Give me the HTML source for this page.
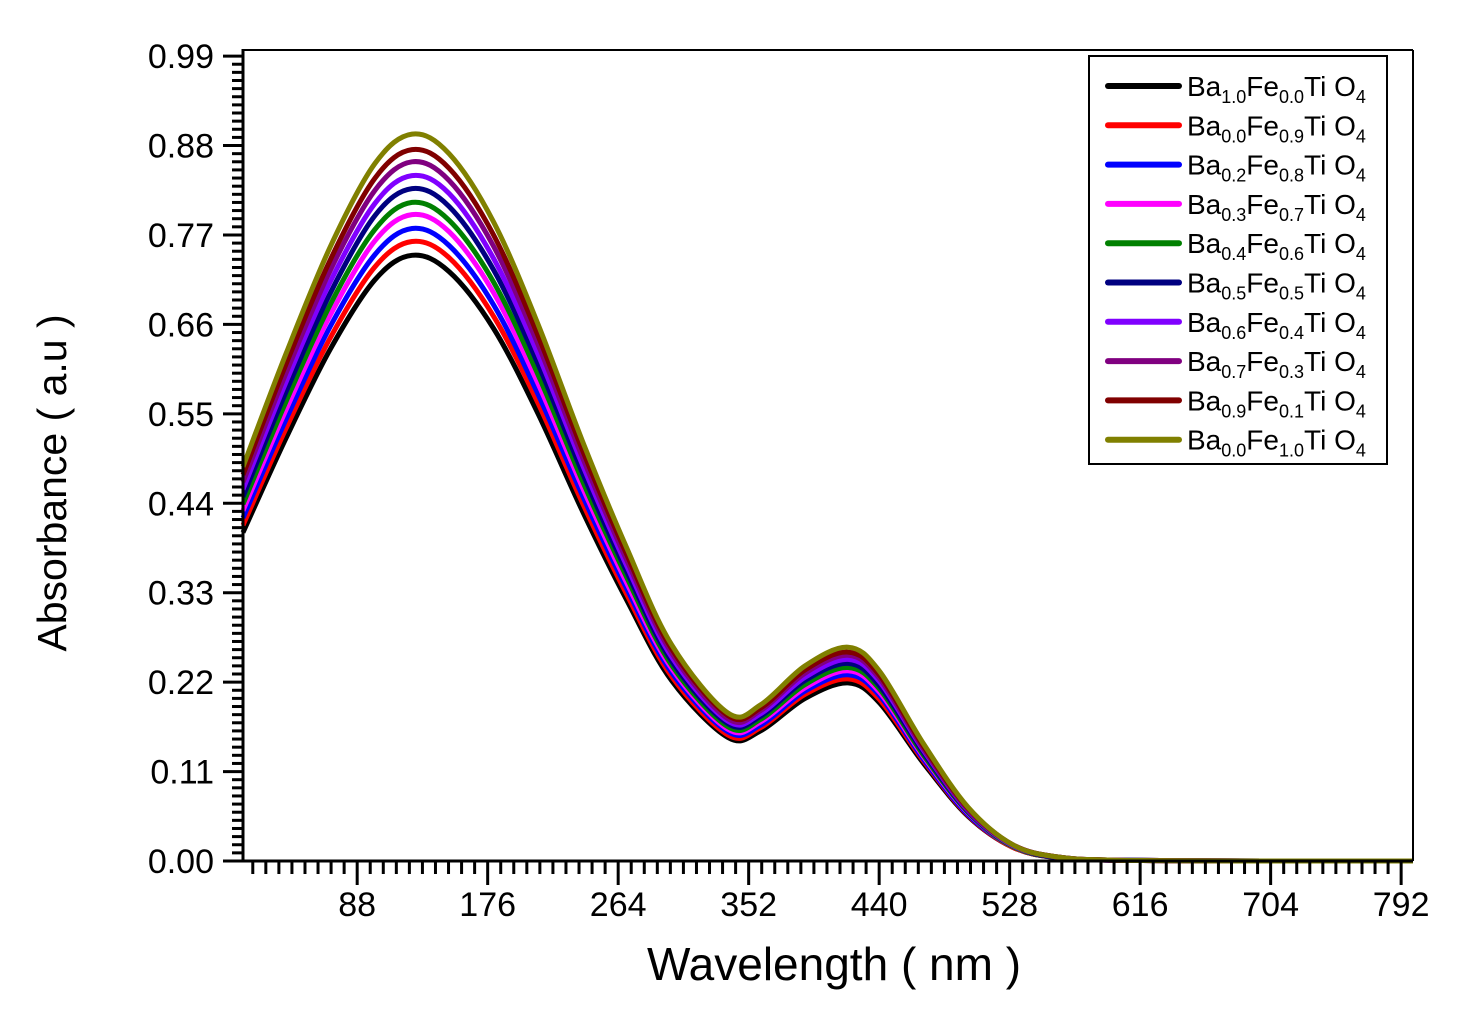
<!DOCTYPE html>
<html><head><meta charset="utf-8"><style>
body{margin:0;background:#fff}
svg text{font-family:"Liberation Sans",Arial,sans-serif;fill:#000}
</style></head><body>
<svg id="chart" width="1462" height="1013" viewBox="0 0 1462 1013" xmlns="http://www.w3.org/2000/svg">
<rect width="1462" height="1013" fill="#fff"/>
<g id="series"></g>
<g id="axes"></g>
<text x="834" y="980" font-size="46" text-anchor="middle">Wavelength ( nm )</text>
<text transform="translate(66,483) rotate(-90)" font-size="41" text-anchor="middle">Absorbance ( a.u )</text>
<g id="legend"></g>
</svg>
<script>
const wavelengths=[11,40,70,100,125,150,180,210,240,270,300,338,360,390,419,440,470,500,530,560,600,700,800];
const s1=[.404,.52,.63,.715,.745,.725,.655,.55,.43,.32,.222,.152,.16,.2,.219,.195,.12,.055,.017,.004,.001,0,0];
const s2=[.413,.532,.644,.731,.762,.742,.670,.563,.440,.327,.227,.155,.164,.205,.224,.199,.123,.056,.017,.004,.001,0,0];
const s3=[.422,.543,.658,.746,.778,.757,.684,.574,.449,.334,.232,.159,.167,.209,.229,.204,.125,.057,.018,.004,.001,0,0];
const s4=[.431,.555,.672,.763,.795,.774,.699,.587,.459,.341,.237,.162,.171,.213,.234,.208,.128,.059,.018,.004,.001,0,0];
const s5=[.439,.565,.685,.777,.810,.788,.712,.598,.467,.348,.241,.165,.174,.217,.238,.212,.130,.060,.018,.004,.001,0,0];
const s6=[.448,.577,.699,.794,.827,.805,.727,.611,.477,.355,.246,.169,.178,.222,.243,.216,.133,.061,.019,.004,.001,0,0];
const s7=[.457,.589,.713,.809,.843,.821,.741,.623,.487,.362,.251,.172,.181,.226,.248,.221,.136,.062,.019,.005,.001,0,0];
const s8=[.466,.600,.727,.825,.860,.837,.756,.635,.496,.369,.256,.175,.185,.231,.253,.225,.138,.063,.020,.005,.001,0,0];
const s9=[.475,.611,.740,.840,.875,.852,.770,.646,.505,.376,.261,.179,.188,.235,.257,.229,.141,.065,.020,.005,.001,0,0];
const s10=[.485,.624,.756,.858,.894,.870,.786,.660,.516,.384,.266,.182,.192,.240,.263,.234,.144,.066,.020,.005,.001,0,0];
const seriesValues=[s1,s2,s3,s4,s5,s6,s7,s8,s9,s10];
const baSub=["1.0","0.0","0.2","0.3","0.4","0.5","0.6","0.7","0.9","0.0"];
const feSub=["0.0","0.9","0.8","0.7","0.6","0.5","0.4","0.3","0.1","1.0"];
const colors=["#000000","#ff0000","#0000ff","#ff00ff","#008000","#000080","#8000ff","#800080","#800000","#808000"];
const xTicks=[88,176,264,352,440,528,616,704,792];
const yTicks=[0,0.11,0.22,0.33,0.44,0.55,0.66,0.77,0.88,0.99];

const L=243,R=1413,T=50,B=861;
const xMin=11,xMax=800,yMin=0,yMax=0.9975;
const X=v=>L+(v-xMin)/(xMax-xMin)*(R-L);
const Y=v=>B-(v-yMin)/(yMax-yMin)*(B-T);
const NS="http://www.w3.org/2000/svg";
function mk(tag,parent){const e=document.createElementNS(NS,tag);parent.appendChild(e);return e;}

function smoothPath(pts){
  let d="M"+pts[0][0].toFixed(1)+","+pts[0][1].toFixed(1);
  for(let i=0;i<pts.length-1;i++){
    const p0=pts[Math.max(0,i-1)],p1=pts[i],p2=pts[i+1],p3=pts[Math.min(pts.length-1,i+2)];
    const c1x=p1[0]+(p2[0]-p0[0])/6,c1y=p1[1]+(p2[1]-p0[1])/6;
    const c2x=p2[0]-(p3[0]-p1[0])/6,c2y=p2[1]-(p3[1]-p1[1])/6;
    d+=" C"+c1x.toFixed(1)+","+Math.min(B,c1y).toFixed(1)+" "+c2x.toFixed(1)+","+Math.min(B,c2y).toFixed(1)+" "+p2[0].toFixed(1)+","+p2[1].toFixed(1);
  }
  return d;
}
const sg=document.getElementById("series");
seriesValues.forEach((vals,i)=>{
  const p=mk("path",sg);
  
  
  p.setAttribute("d",smoothPath(wavelengths.map((w,j)=>[X(w),Y(vals[j])])));
  p.setAttribute("fill","none");p.setAttribute("stroke",colors[i]);p.setAttribute("stroke-width","5");
  p.setAttribute("stroke-linejoin","round");
});

const ag=document.getElementById("axes");
function line(x1,y1,x2,y2,w,name){const l=mk("line",ag);
  
  
  l.setAttribute("x1",x1);l.setAttribute("y1",y1);l.setAttribute("x2",x2);l.setAttribute("y2",y2);l.setAttribute("stroke","#000");l.setAttribute("stroke-width",w);}
line(L,T,R,T,2,"plot-frame-top");line(R,T,R,B,2,"plot-frame-right");
line(L,T-1,L,B+1,3,"y-axis-line");line(L-1,B,R,B,3,"x-axis-line");
for(let k=0;k<=99;k++){const v=k*0.01;const y=Y(v);if(y<T)continue;
  const maj=k%11===0;line(maj?L-20:L-11,y,L,y,3,maj?"y-major-tick":"y-minor-tick");}
yTicks.forEach(v=>{const t=mk("text",ag);
  
  
  t.setAttribute("x",214);t.setAttribute("y",Y(v)+12);t.setAttribute("font-size","34");t.setAttribute("text-anchor","end");t.textContent=v.toFixed(2);});
for(let k=0;k<=95;k++){const v=k*8.8;if(v<xMin||v>xMax)continue;const x=X(v);
  const maj=k%10===0;line(x,B,x,maj?B+24:B+13,3,maj?"x-major-tick":"x-minor-tick");}
xTicks.forEach(v=>{const t=mk("text",ag);
  
  
  t.setAttribute("x",X(v));t.setAttribute("y",916);t.setAttribute("font-size","34");t.setAttribute("text-anchor","middle");t.textContent=v;});

const lg=document.getElementById("legend");
const box=mk("rect",lg);


box.setAttribute("x",1089);box.setAttribute("y",56);box.setAttribute("width",298);box.setAttribute("height",408);
box.setAttribute("fill","#fff");box.setAttribute("stroke","#000");box.setAttribute("stroke-width","2");
colors.forEach((c,i)=>{const y=86+i*39.3;
  const l=mk("line",lg);
  
  
  l.setAttribute("x1",1108);l.setAttribute("x2",1179);l.setAttribute("y1",y);l.setAttribute("y2",y);
  l.setAttribute("stroke",c);l.setAttribute("stroke-width","6");l.setAttribute("stroke-linecap","round");
  const t=mk("text",lg);
  
  
  t.setAttribute("x",1187);t.setAttribute("y",y+10);t.setAttribute("font-size","28");
  t.innerHTML='Ba<tspan font-size="18" dy="7">'+baSub[i]+'</tspan><tspan dy="-7">Fe</tspan><tspan font-size="18" dy="7">'+feSub[i]+'</tspan><tspan dy="-7">Ti O</tspan><tspan font-size="18" dy="7">4</tspan>';
});
</script>
</body></html>
